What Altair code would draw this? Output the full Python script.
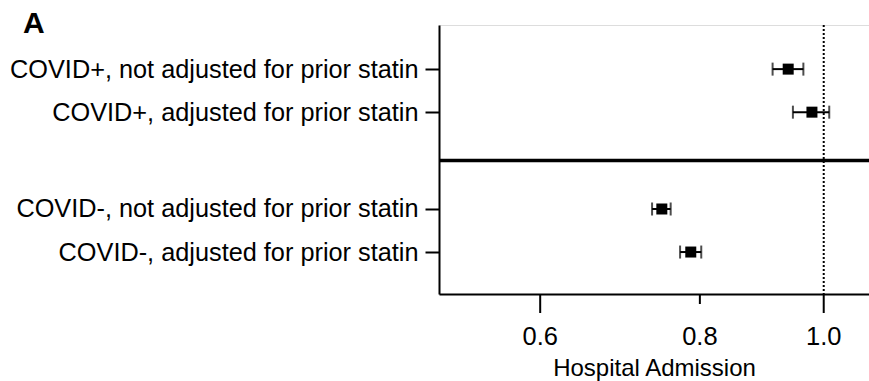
import altair as alt
import pandas as pd

labels = [
    "COVID+, not adjusted for prior statin",
    "COVID+, adjusted for prior statin",
    "COVID-, not adjusted for prior statin",
    "COVID-, adjusted for prior statin",
]
row_pos = [1, 2, 4.25, 5.25]
est = [0.938, 0.979, 0.747, 0.787]
lo = [0.912, 0.946, 0.734, 0.772]
hi = [0.964, 1.010, 0.759, 0.802]
x_ticks = [0.6, 0.8, 1.0]
long_ticks = [0.6, 1.0]
short_ticks = [0.8]
ref_value = [1.0]
separator_pos = [3.125]

df = pd.DataFrame({"label": labels, "pos": row_pos, "est": est, "lo": lo, "hi": hi})
ref_df = pd.DataFrame({"ref": ref_value})
sep_df = pd.DataFrame({"sep": separator_pos})
tick_df = pd.DataFrame({"t": x_ticks})
long_df = pd.DataFrame({"t": long_ticks})
short_df = pd.DataFrame({"t": short_ticks})

FONT = "Liberation Sans"

label_expr = "".join(
    f"datum.value == {p} ? '{l}' : " for p, l in zip(row_pos, labels)
) + "''"

xscale = alt.Scale(type="log", domain=[0.5, 1.085], nice=False, zero=False)
yscale = alt.Scale(domain=[-0.025, 6.225], reverse=True, nice=False, zero=False)

xaxis = alt.Axis(
    values=x_ticks,
    format=".1f",
    title="Hospital Admission",
    grid=False,
    domainColor="black",
    domainWidth=2,
    ticks=False,
    labelFont=FONT,
    labelFontSize=25.5,
    labelColor="black",
    labelOpacity=0,
    labelPadding=29,
    titleFont=FONT,
    titleFontSize=24,
    titleFontWeight="normal",
    titleColor="black",
    titlePadding=8,
)
yaxis = alt.Axis(
    values=row_pos,
    labelExpr=label_expr,
    title=None,
    grid=False,
    domainColor="black",
    domainWidth=2,
    tickColor="black",
    tickWidth=2,
    tickSize=14,
    labelFont=FONT,
    labelFontSize=25.3,
    labelColor="black",
    labelPadding=7,
    labelLimit=0,
    labelBaseline="middle",
)

base = alt.Chart(df)

ci = base.mark_rule(color="black", strokeWidth=2).encode(
    x=alt.X("lo:Q", scale=xscale, axis=xaxis),
    x2="hi:Q",
    y=alt.Y("pos:Q", scale=yscale, axis=yaxis),
)
cap_lo = base.mark_tick(color="black", orient="vertical", size=13, thickness=2).encode(
    x=alt.X("lo:Q", scale=xscale), y=alt.Y("pos:Q", scale=yscale)
)
cap_hi = base.mark_tick(color="black", orient="vertical", size=13, thickness=2).encode(
    x=alt.X("hi:Q", scale=xscale), y=alt.Y("pos:Q", scale=yscale)
)
pts = base.mark_square(color="black", size=121, opacity=1, filled=True).encode(
    x=alt.X("est:Q", scale=xscale), y=alt.Y("pos:Q", scale=yscale)
)
ref = alt.Chart(ref_df).mark_rule(color="black", strokeWidth=2, strokeDash=[2, 2]).encode(
    x=alt.X("ref:Q", scale=xscale)
)
sep = alt.Chart(sep_df).mark_rule(color="black", strokeWidth=3.5).encode(
    y=alt.Y("sep:Q", scale=yscale)
)
tick_long = alt.Chart(long_df).mark_rule(color="black", strokeWidth=2).encode(
    x=alt.X("t:Q", scale=xscale), y=alt.value(269), y2=alt.value(288)
)
tick_short = alt.Chart(short_df).mark_rule(color="black", strokeWidth=2).encode(
    x=alt.X("t:Q", scale=xscale), y=alt.value(269), y2=alt.value(279)
)
tick_text = alt.Chart(tick_df).mark_text(
    font=FONT, fontSize=25.5, color="black", align="center", baseline="alphabetic"
).encode(
    x=alt.X("t:Q", scale=xscale),
    y=alt.value(320),
    text=alt.Text("t:Q", format=".1f"),
)

chart = (
    alt.layer(ref, sep, ci, cap_lo, cap_hi, pts, tick_long, tick_short, tick_text)
    .properties(
        width=430,
        height=269,
        autosize=alt.AutoSizeParams(type="none"),
        padding={"left": 439, "top": 25, "right": 0, "bottom": 87},
        title=alt.TitleParams(
            "A",
            anchor="start",
            frame="group",
            font=FONT,
            fontSize=30,
            fontWeight="bold",
            color="black",
            baseline="top",
            offset=-15,
            dx=-416,
        ),
    )
    .configure_view(strokeWidth=0)
    .configure(background="white")
)

chart.save("out.html", embed_options={"renderer": "svg", "actions": False})
